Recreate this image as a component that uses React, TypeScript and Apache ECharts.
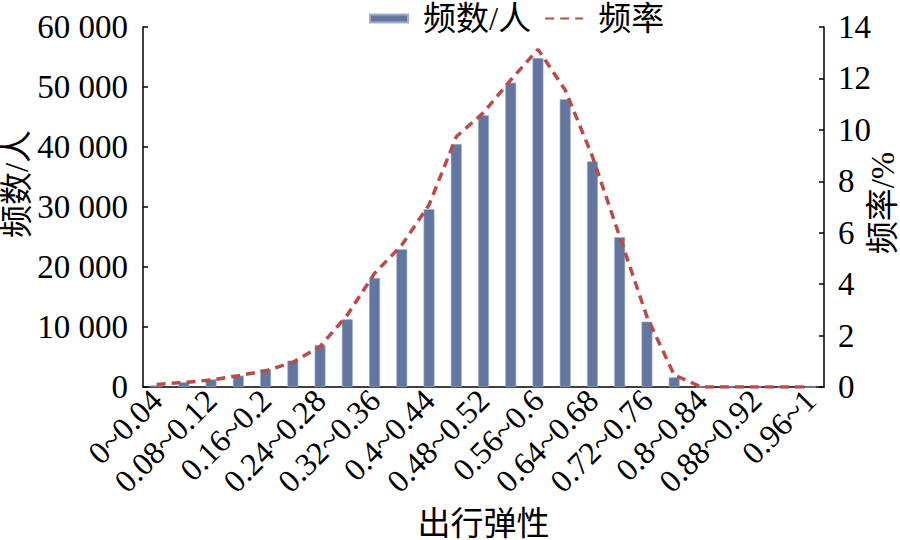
import React, { useEffect, useRef } from "react";
import * as echarts from "echarts";

const categories = [
  "0~0.04", "0.04~0.08", "0.08~0.12", "0.12~0.16", "0.16~0.2", "0.2~0.24",
  "0.24~0.28", "0.28~0.32", "0.32~0.36", "0.36~0.4", "0.4~0.44", "0.44~0.48",
  "0.48~0.52", "0.52~0.56", "0.56~0.6", "0.6~0.64", "0.64~0.68", "0.68~0.72",
  "0.72~0.76", "0.76~0.8", "0.8~0.84", "0.84~0.88", "0.88~0.92", "0.92~0.96", "0.96~1",
];

const counts = [
  280, 780, 1280, 1900, 2950, 4400, 7000, 11280, 18170, 22950, 29650, 40500,
  45280, 50720, 54830, 47950, 37610, 24950, 10890, 1610, 0, 0, 0, 0, 0,
];

const rates = [
  0.1, 0.18, 0.27, 0.44, 0.63, 0.96, 1.57, 2.8, 4.42, 5.52, 7.08, 9.73,
  10.67, 11.94, 13.13, 11.55, 8.96, 5.85, 2.73, 0.47, 0, 0, 0, 0, 0,
];

const seriesNames = ["频数/人", "频率"];
const axisNames = { x: "出行弹性", yLeft: "频数/人", yRight: "频率/%" };

const FONT = "'Liberation Serif', 'Times New Roman', 'Noto Sans CJK SC', serif";
const FS = 33;

export default function App() {
  const ref = useRef<HTMLDivElement>(null);
  useEffect(() => {
    if (!ref.current) return;
    const chart = echarts.init(ref.current, undefined, { renderer: "svg" });
    chart.setOption({
      animation: false,
      backgroundColor: "#ffffff",
      textStyle: { fontFamily: FONT, color: "#000" },
      grid: { left: 143, right: 76, top: 27, bottom: 153, containLabel: false, outerBoundsMode: "none" },
      legend: {
        left: 369,
        top: 2,
        padding: 0,
        itemWidth: 38,
        itemHeight: 8,
        itemGap: 13,
        textStyle: { fontFamily: FONT, fontSize: FS, color: "#000", padding: [0, 0, 0, 10] },
        data: [
          { name: seriesNames[0], icon: "rect" },
          { name: seriesNames[1], itemStyle: { opacity: 0 } },
        ],
      },
      xAxis: {
        type: "category",
        data: categories,
        boundaryGap: true,
        name: axisNames.x,
        nameLocation: "middle",
        nameGap: 120,
        nameMoveOverlap: false,
        nameTextStyle: { fontFamily: FONT, fontSize: FS, color: "#000" },
        axisLine: { lineStyle: { color: "#000", width: 1.5 } },
        axisTick: { show: false },
        axisLabel: {
          interval: 1,
          rotate: 45,
          fontFamily: FONT,
          fontSize: 32,
          color: "#000",
          margin: 8,
        },
      },
      yAxis: [
        {
          type: "value",
          min: 0,
          max: 60000,
          interval: 10000,
          name: axisNames.yLeft,
          nameLocation: "middle",
          nameGap: 110,
          nameRotate: 90,
          nameMoveOverlap: false,
          nameTextStyle: { fontFamily: FONT, fontSize: FS, color: "#000", padding: [0, 0, 0, 46] },
          axisLine: { show: true, lineStyle: { color: "#000", width: 1.5 } },
          axisTick: { show: true, inside: true, length: 5, lineStyle: { color: "#000", width: 1.5 } },
          splitLine: { show: false },
          axisLabel: {
            fontFamily: FONT,
            fontSize: FS,
            color: "#000",
            margin: 15,
            formatter: (v: number) => (v === 0 ? "0" : `${v / 1000} 000`),
          },
        },
        {
          type: "value",
          min: 0,
          max: 14,
          interval: 2,
          position: "right",
          name: axisNames.yRight,
          nameLocation: "middle",
          nameGap: 42,
          nameRotate: 90,
          nameMoveOverlap: false,
          nameTextStyle: { fontFamily: FONT, fontSize: FS, color: "#000", padding: [0, 0, 0, 8] },
          axisLine: { show: true, lineStyle: { color: "#000", width: 1.5 } },
          axisTick: { show: true, inside: true, length: 5, lineStyle: { color: "#000", width: 1.5 } },
          splitLine: { show: false },
          axisLabel: { fontFamily: FONT, fontSize: FS, color: "#000", margin: 14 },
        },
      ],
      series: [
        {
          name: seriesNames[0],
          type: "bar",
          yAxisIndex: 0,
          barWidth: "40%",
          data: counts,
          itemStyle: { color: "#63769f", borderColor: "#9fb0cf", borderWidth: 0.6 },
        },
        {
          name: seriesNames[1],
          type: "line",
          yAxisIndex: 1,
          data: rates,
          symbol: "none",
          smooth: false,
          lineStyle: { color: "#bb4a48", width: 3.5, type: [9, 6] },
          itemStyle: { color: "#bb4a48" },
        },
      ],
    });
    return () => chart.dispose();
  }, []);
  return <div ref={ref} style={{ width: 900, height: 540, position: "fixed", left: 0, top: 0 }} />;
}
